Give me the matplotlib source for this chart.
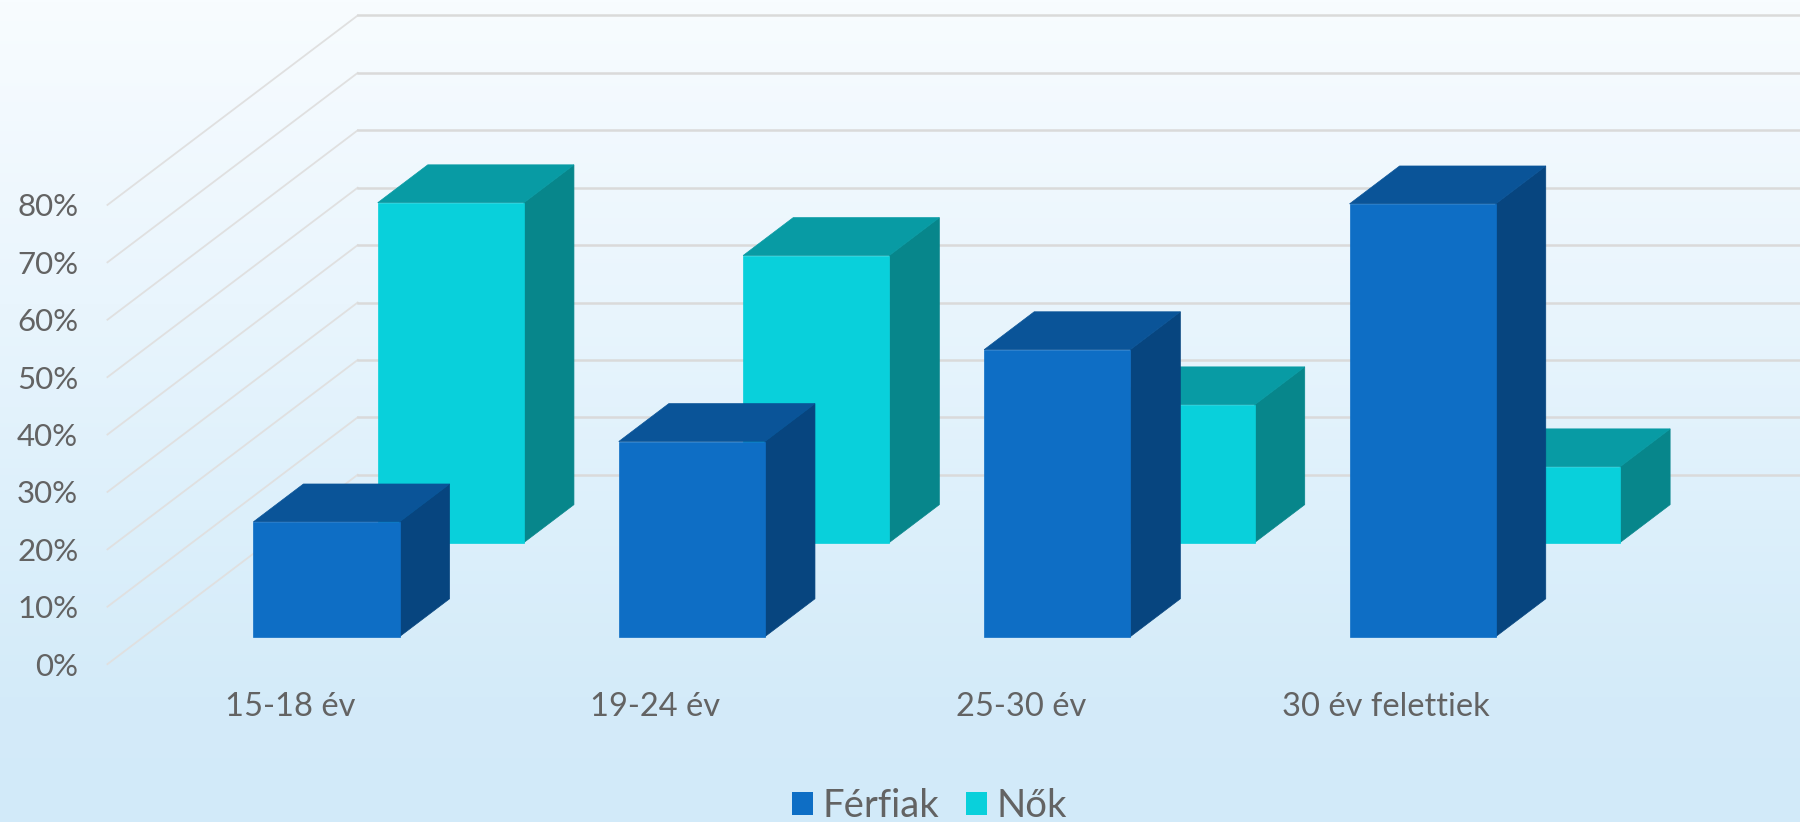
import numpy as np
import matplotlib
matplotlib.use('Agg')
import matplotlib.pyplot as plt
from matplotlib.colors import LinearSegmentedColormap
from matplotlib.patches import Patch, Polygon

plt.rcParams['font.family'] = ['Lato', 'DejaVu Sans']

categories = ['15-18 év', '19-24 év', '25-30 év', '30 év felettiek']
ferfiak = [20, 34, 50, 75.4]
nok = [59.2, 50, 24, 13.2]
y_ticks = [0, 10, 20, 30, 40, 50, 60, 70, 80]

W, H = 1568, 716  # layout measured on the shrunk picture
SPACING = 318.3
DEPTH_X = 218 / SPACING  # wall depth in category units
DEPTH_Y = 165 / 5  # wall depth in percent units
BAR_W = 0.4
TEXT_COLOR = '#636363'
GRID_COLOR = '#dadada'


def project(x, value, depth):
    # oblique projection, depth 0 is the front plane and 1 the back wall
    return x + depth * DEPTH_X, value + depth * DEPTH_Y


def draw_bar(ax, center, value, d0, d1, colors, zorder):
    x0, x1 = center - BAR_W / 2, center + BAR_W / 2
    front = [project(x0, 0, d0), project(x1, 0, d0), project(x1, value, d0), project(x0, value, d0)]
    top = [project(x0, value, d0), project(x1, value, d0), project(x1, value, d1), project(x0, value, d1)]
    side = [project(x1, 0, d0), project(x1, 0, d1), project(x1, value, d1), project(x1, value, d0)]
    for pts, col in zip([side, top, front], colors):
        ax.add_patch(Polygon(pts, closed=True, facecolor=col, edgecolor=col, linewidth=0.5,
                             clip_on=False, zorder=zorder))


fig = plt.figure(figsize=(18, 8.22), dpi=100)

# background gradient
bg = fig.add_axes([0, 0, 1, 1], zorder=0)
bg_cmap = LinearSegmentedColormap.from_list('bg', [(0, '#f8fcff'), (0.37, '#e9f5fd'), (0.62, '#ddf0fb'),
                                                   (0.85, '#d4ebf9'), (1, '#d2eaf9')])
bg.imshow(np.linspace(0, 1, 256).reshape(-1, 1), aspect='auto', cmap=bg_cmap)
bg.axis('off')

ax = fig.add_axes([93.6 / W, (H - 578.5) / H, 4 * SPACING / W, 400 / H], zorder=1)
ax.patch.set_alpha(0)
ax.set_xlim(0, 4)
ax.set_ylim(0, 80)
for s in ax.spines.values():
    s.set_visible(False)

# side wall and back wall grid
for v in y_ticks:
    xs, ys = zip(project(0, v, 0), project(0, v, 1))
    ax.plot(xs, ys, color='#e0e0e0', lw=1.3, clip_on=False, zorder=1)
    xs, ys = zip(project(0, v, 1), project(4, v, 1))
    ax.plot(xs, ys, color=GRID_COLOR, lw=1.8, clip_on=False, zorder=1)

blue = ['#07457f', '#0a5498', '#0e6ec5']
teal = ['#07868b', '#089ba4', '#09d0db']
centers = np.arange(len(categories)) + 0.5
for c, v in zip(centers, nok):
    draw_bar(ax, c, v, 0.642, 0.842, teal, 3)
for c, v in zip(centers, ferfiak):
    draw_bar(ax, c, v, 0.145, 0.345, blue, 4)

ax.set_yticks(y_ticks)
ax.set_yticklabels([str(v) + '%' for v in y_ticks], fontsize=22.5, color=TEXT_COLOR)
ax.set_xticks(centers)
ax.set_xticklabels(categories, fontsize=23.5, color=TEXT_COLOR)
ax.tick_params(axis='y', length=0, pad=21)
ax.tick_params(axis='x', length=0, pad=20)

handles = [Patch(facecolor=blue[2], label='Férfiak'), Patch(facecolor=teal[2], label='Nők')]
fig.legend(handles=handles, loc='center', bbox_to_anchor=(810 / W, 1 - 702 / H), ncol=2, frameon=False,
           fontsize=27.5, labelcolor=TEXT_COLOR, handlelength=0.55, handleheight=0.55, handletextpad=0.25,
           columnspacing=0.7, borderpad=0, borderaxespad=0)

fig.savefig('out.png', dpi=100)
